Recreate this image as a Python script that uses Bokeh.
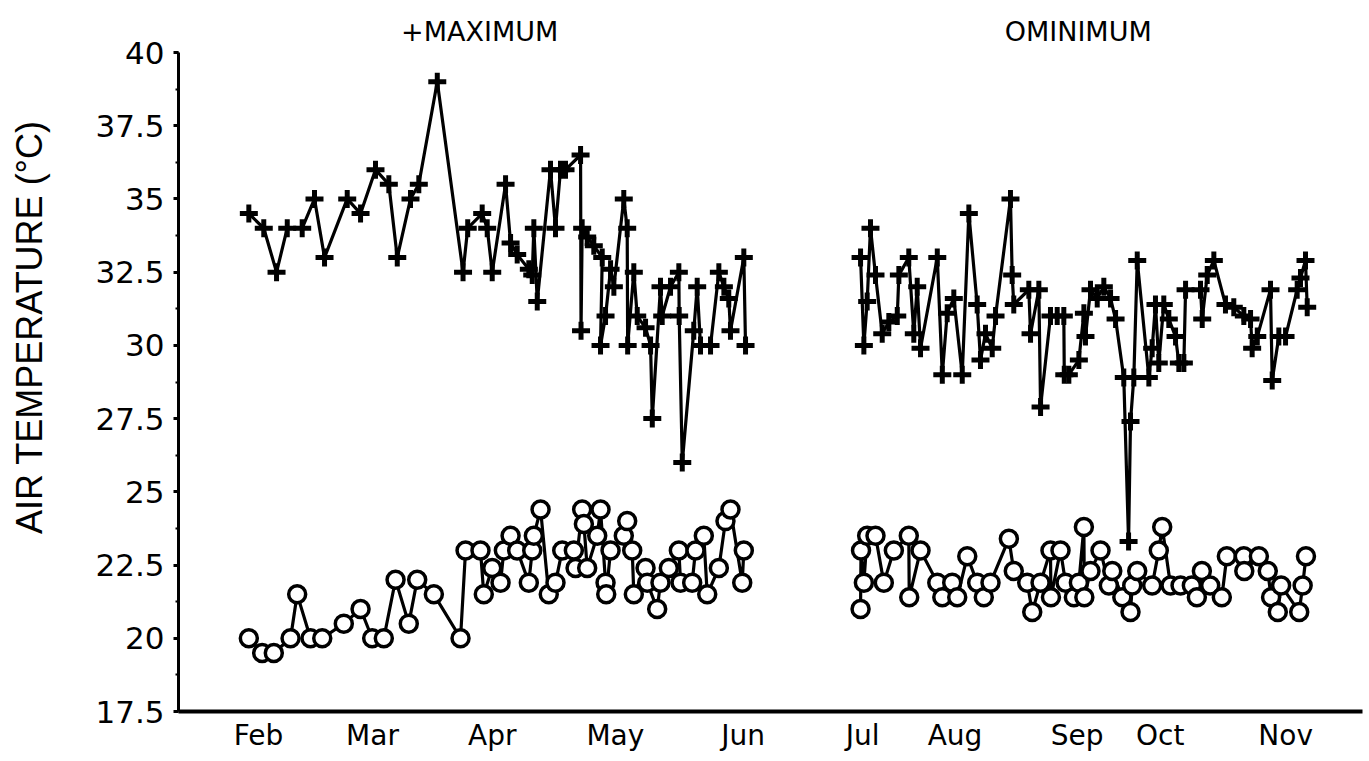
from bokeh.plotting import figure
from bokeh.models import Range1d, FixedTicker, LinearAxis
from bokeh.embed import file_html
from bokeh.resources import INLINE

# ---- data (x in month units: Feb = 1 ... Nov = 10) ----
month_labels = ["Feb", "Mar", "Apr", "May", "Jun", "Jul", "Aug", "Sep", "Oct", "Nov"]
month_ticks = [1.0, 2.0, 3.05, 4.13, 5.25, 6.30, 7.11, 8.18, 8.91, 10.01]

max_x_feb_jun = [0.915, 1.046, 1.158, 1.252, 1.383, 1.491, 1.579, 1.778, 1.895, 2.026,
                 2.143, 2.217, 2.333, 2.406, 2.568, 2.794, 2.835, 2.962, 3.006, 3.050,
                 3.167, 3.211, 3.269, 3.371, 3.401, 3.415, 3.445, 3.561, 3.605, 3.649,
                 3.693, 3.825, 3.829, 3.839, 3.883, 3.941, 4.015, 4.000, 4.044, 4.088,
                 4.117, 4.204, 4.234, 4.238, 4.292, 4.322, 4.395, 4.439, 4.454, 4.526,
                 4.541, 4.614, 4.687, 4.690, 4.717, 4.818, 4.848, 4.877, 4.965, 5.038,
                 5.082, 5.125, 5.140, 5.257, 5.272]
max_y_feb_jun = [34.5, 34.0, 32.5, 34.0, 34.0, 35.0, 33.0, 35.0, 34.5, 36.0,
                 35.5, 33.0, 35.0, 35.5, 39.0, 32.5, 34.0, 34.5, 34.0, 32.5,
                 35.5, 33.5, 33.1, 32.6, 32.4, 34.0, 31.5, 36.0, 34.0, 36.0,
                 36.0, 36.5, 30.5, 34.0, 33.7, 33.4, 33.0, 30.0, 31.0, 32.6,
                 32.0, 35.0, 34.0, 30.0, 32.5, 31.0, 30.6, 30.0, 27.5, 32.0,
                 31.0, 32.0, 32.5, 31.0, 26.0, 30.5, 32.0, 30.0, 30.0, 32.5,
                 32.0, 31.6, 30.5, 33.0, 30.0]

max_x_jul_nov = [6.281, 6.310, 6.339, 6.368, 6.412, 6.471, 6.529, 6.603, 6.617, 6.704,
                 6.748, 6.778, 6.807, 6.954, 6.998, 7.041, 7.099, 7.173, 7.231, 7.304,
                 7.333, 7.377, 7.436, 7.465, 7.596, 7.611, 7.625, 7.757, 7.772, 7.845,
                 7.860, 7.947, 8.006, 8.064, 8.068, 8.108, 8.196, 8.240, 8.254, 8.298,
                 8.357, 8.415, 8.474, 8.518, 8.590, 8.632, 8.649, 8.678, 8.708, 8.810,
                 8.839, 8.868, 8.897, 8.941, 8.985, 9.044, 9.073, 9.117, 9.132, 9.263,
                 9.278, 9.322, 9.380, 9.482, 9.555, 9.643, 9.702, 9.716, 9.761, 9.877,
                 9.892, 9.950, 10.009, 10.111, 10.140, 10.184, 10.199]
max_y_jul_nov = [33.0, 30.0, 31.5, 34.0, 32.4, 30.4, 30.8, 31.0, 32.4, 33.0,
                 30.4, 32.0, 29.9, 33.0, 29.0, 31.1, 31.6, 29.0, 34.5, 31.4,
                 29.5, 30.4, 29.9, 31.0, 35.0, 32.4, 31.4, 31.9, 30.4, 31.9,
                 27.9, 31.0, 31.0, 31.0, 29.0, 29.0, 29.5, 31.1, 30.3, 31.9,
                 31.6, 32.0, 31.6, 30.9, 28.9, 23.3, 27.4, 28.9, 32.9, 28.9,
                 29.9, 31.4, 29.4, 31.4, 30.9, 30.3, 29.4, 29.4, 31.9, 31.9,
                 30.9, 32.4, 32.9, 31.4, 31.3, 31.0, 30.9, 29.9, 30.3, 31.9,
                 28.8, 30.3, 30.3, 31.9, 32.3, 32.9, 31.3]

min_x_feb_jun = [0.915, 1.032, 1.134, 1.281, 1.339, 1.456, 1.559, 1.748, 1.895, 1.997,
                 2.099, 2.202, 2.318, 2.392, 2.538, 2.772, 2.816, 2.947, 2.976, 3.050,
                 3.123, 3.152, 3.211, 3.269, 3.371, 3.401, 3.415, 3.474, 3.546, 3.605,
                 3.664, 3.766, 3.781, 3.839, 3.854, 3.883, 3.971, 4.000, 4.044, 4.050,
                 4.088, 4.204, 4.234, 4.278, 4.292, 4.395, 4.410, 4.497, 4.526, 4.599,
                 4.687, 4.702, 4.804, 4.833, 4.906, 4.936, 5.038, 5.096, 5.140, 5.243,
                 5.257]
min_y_feb_jun = [20.0, 19.5, 19.5, 20.0, 21.5, 20.0, 20.0, 20.5, 21.0, 20.0,
                 20.0, 22.0, 20.5, 22.0, 21.5, 20.0, 23.0, 23.0, 21.5, 22.4,
                 21.9, 23.0, 23.5, 23.0, 21.9, 23.0, 23.5, 24.4, 21.5, 21.9,
                 23.0, 23.0, 22.4, 24.4, 23.9, 22.4, 23.5, 24.4, 21.9, 21.5,
                 23.0, 23.5, 24.0, 23.0, 21.5, 22.4, 21.9, 21.0, 21.9, 22.4,
                 23.0, 21.9, 21.9, 23.0, 23.5, 21.5, 22.4, 24.0, 24.4, 21.9,
                 23.0]

min_x_jul_nov = [6.281, 6.285, 6.310, 6.339, 6.412, 6.485, 6.573, 6.704, 6.708, 6.807,
                 6.954, 6.998, 7.085, 7.129, 7.217, 7.304, 7.362, 7.421, 7.582, 7.625,
                 7.743, 7.787, 7.860, 7.947, 7.951, 8.035, 8.079, 8.152, 8.196, 8.240,
                 8.244, 8.298, 8.386, 8.459, 8.489, 8.577, 8.649, 8.664, 8.708, 8.839,
                 8.897, 8.927, 9.000, 9.088, 9.187, 9.231, 9.275, 9.348, 9.450, 9.494,
                 9.643, 9.647, 9.775, 9.853, 9.882, 9.941, 9.970, 10.129, 10.159, 10.188]
min_y_jul_nov = [21.0, 23.0, 21.9, 23.5, 23.5, 21.9, 23.0, 23.5, 21.4, 23.0,
                 21.9, 21.4, 21.9, 21.4, 22.8, 21.9, 21.4, 21.9, 23.4, 22.3,
                 21.9, 20.9, 21.9, 23.0, 21.4, 23.0, 21.9, 21.4, 21.9, 23.8,
                 21.4, 22.3, 23.0, 21.8, 22.3, 21.4, 20.9, 21.8, 22.3, 21.8,
                 23.0, 23.8, 21.8, 21.8, 21.8, 21.4, 22.3, 21.8, 21.4, 22.8,
                 22.8, 22.3, 22.8, 22.3, 21.4, 20.9, 21.8, 20.9, 21.8, 22.8]

y_ticks = [17.5, 20, 22.5, 25, 27.5, 30, 32.5, 35, 37.5, 40]
y_title = "AIR TEMPERATURE (°C)"
legend_names = ["+MAXIMUM", "OMINIMUM"]

FONT = "DejaVu Sans"

# ---- figure ----
p = figure(width=1365, height=760, output_backend="svg", toolbar_location=None,
           x_range=Range1d(0.298, 10.684), y_range=Range1d(17.5, 40),
           min_border_left=178, min_border_top=52, min_border_bottom=49,
           min_border_right=3)
p.outline_line_color = None
p.xgrid.grid_line_color = None
p.ygrid.grid_line_color = None
p.background_fill_color = "white"
p.border_fill_color = "white"

# y axis
p.yaxis.ticker = FixedTicker(ticks=y_ticks, minor_ticks=[17.5 + 1.25 * i for i in range(19)])
p.yaxis.major_label_overrides = {t: ("%g" % t) for t in y_ticks}
p.yaxis.axis_line_width = 3
p.yaxis.axis_line_color = "black"
p.yaxis.major_tick_line_width = 3
p.yaxis.major_tick_out = 5
p.yaxis.major_tick_in = 0
p.yaxis.minor_tick_line_width = 2
p.yaxis.minor_tick_out = 3
p.yaxis.minor_tick_in = 0
p.yaxis.major_label_standoff = 9
p.yaxis.major_label_text_font = FONT
p.yaxis.major_label_text_font_size = "31px"
p.yaxis.major_label_text_color = "black"

# x axis
p.xaxis.ticker = FixedTicker(ticks=month_ticks)
p.xaxis.major_label_overrides = {t: l for t, l in zip(month_ticks, month_labels)}
p.xaxis.axis_line_width = 4
p.xaxis.axis_line_color = "black"
p.xaxis.major_tick_line_color = None
p.xaxis.minor_tick_line_color = None
p.xaxis.major_tick_out = 0
p.xaxis.major_label_standoff = 7
p.xaxis.major_label_text_font = FONT
p.xaxis.major_label_text_font_size = "28px"
p.xaxis.major_label_text_color = "black"

# y axis title, drawn as the single label of an extra (line-less) left axis
title_axis = LinearAxis(ticker=FixedTicker(ticks=[30.62]),
                        major_label_overrides={30.62: y_title},
                        major_label_orientation="vertical",
                        axis_line_color=None, major_tick_line_color=None,
                        minor_tick_line_color=None, major_label_standoff=36,
                        major_label_text_font="Liberation Sans, Arial, sans-serif",
                        major_label_text_font_size="36px",
                        major_label_text_color="black")
p.add_layout(title_axis, "left")

# legend texts above the plot, as labels of an extra (line-less) top axis
legend_pos = [2.94, 8.19]
legend_axis = LinearAxis(ticker=FixedTicker(ticks=legend_pos),
                         major_label_overrides={t: n for t, n in zip(legend_pos, legend_names)},
                         axis_line_color=None, major_tick_line_color=None,
                         minor_tick_line_color=None, major_tick_out=0,
                         major_label_standoff=6,
                         major_label_text_font=FONT,
                         major_label_text_font_size="27px",
                         major_label_text_color="black")
p.add_layout(legend_axis, "above")

# series
for xs, ys in ((max_x_feb_jun, max_y_feb_jun), (max_x_jul_nov, max_y_jul_nov)):
    p.line(xs, ys, line_color="black", line_width=3.2)
    p.scatter(xs, ys, marker="cross", size=18, line_width=5, line_color="black")

for xs, ys in ((min_x_feb_jun, min_y_feb_jun), (min_x_jul_nov, min_y_jul_nov)):
    p.line(xs, ys, line_color="black", line_width=3.2)
    p.scatter(xs, ys, marker="circle", size=17, line_width=3.5, line_color="black",
              fill_color="white")

open("out.html", "w").write(file_html(p, INLINE))
